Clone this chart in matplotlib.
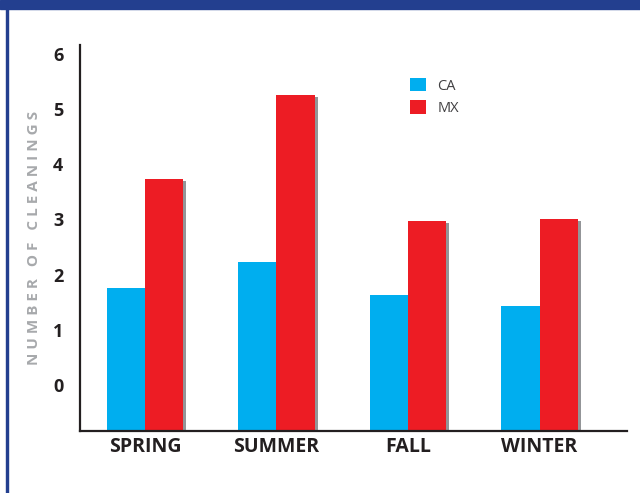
import matplotlib.pyplot as plt
import matplotlib.patches as mpatches
import numpy as np

# data
seasons = ['SPRING', 'SUMMER', 'FALL', 'WINTER']
ca = [1.76, 2.23, 1.63, 1.43]
mx = [3.73, 5.25, 2.97, 3.01]
yticks = [0, 1, 2, 3, 4, 5, 6]

ca_color = '#00aeef'
mx_color = '#ed1c24'
shadow_color = '#939598'
navy = '#233f8f'
ink = '#231f20'

fig = plt.figure(figsize=(6.4, 4.93), dpi=100)

# frame: top band and left rule
fig.patches.append(mpatches.Rectangle((0, 1 - 9 / 493), 1, 9 / 493, transform=fig.transFigure,
                                      color=navy, zorder=0))
fig.patches.append(mpatches.Rectangle((6 / 640, 0), 2 / 640, 1, transform=fig.transFigure,
                                      color=navy, zorder=0))

ax = fig.add_axes([80 / 640, 62 / 493, 547 / 640, 386 / 493])

ymin, ymax = -0.833, 6.16
ax.set_ylim(ymin, ymax)
ax.set_xlim(-0.494, 3.665)

x = np.arange(len(seasons))
w = 0.29
off = 0.022  # shadow offset

ax.bar(x + w / 2 + off, np.array(mx) - ymin - 0.04, bottom=ymin, width=w,
       color=shadow_color, zorder=1)
ax.bar(x - w / 2, np.array(ca) - ymin, bottom=ymin, width=w, color=ca_color, zorder=2, label='CA')
ax.bar(x + w / 2, np.array(mx) - ymin, bottom=ymin, width=w, color=mx_color, zorder=2, label='MX')

for s in ['top', 'right']:
    ax.spines[s].set_visible(False)
for s in ['left', 'bottom']:
    ax.spines[s].set_color(ink)
    ax.spines[s].set_linewidth(1.6)

ax.set_yticks(yticks)
ax.set_yticklabels([str(t) for t in yticks], fontsize=13, fontweight='bold',
                   family='Open Sans', color=ink)
ax.tick_params(axis='y', length=0, pad=12)
ax.set_xticks(x)
ax.set_xticklabels(seasons, fontsize=14, fontweight='bold', family='Open Sans', color=ink)
ax.tick_params(axis='x', length=0, pad=4)

ax.set_ylabel('N U M B E R   O F   C L E A N I N G S', fontsize=11, fontweight='bold',
              family='Open Sans', color='#a7a9ac')
ax.yaxis.set_label_coords(-0.071, 0.5)

leg = ax.legend(loc='upper left', bbox_to_anchor=(0.5905, 0.934), frameon=False,
                prop={'family': 'Open Sans', 'size': 10.5}, handlelength=1.1, handleheight=1.05,
                handletextpad=0.75, labelspacing=0.45, borderpad=0)
for t in leg.get_texts():
    t.set_color('#414042')

fig.savefig('out.png', dpi=100)
